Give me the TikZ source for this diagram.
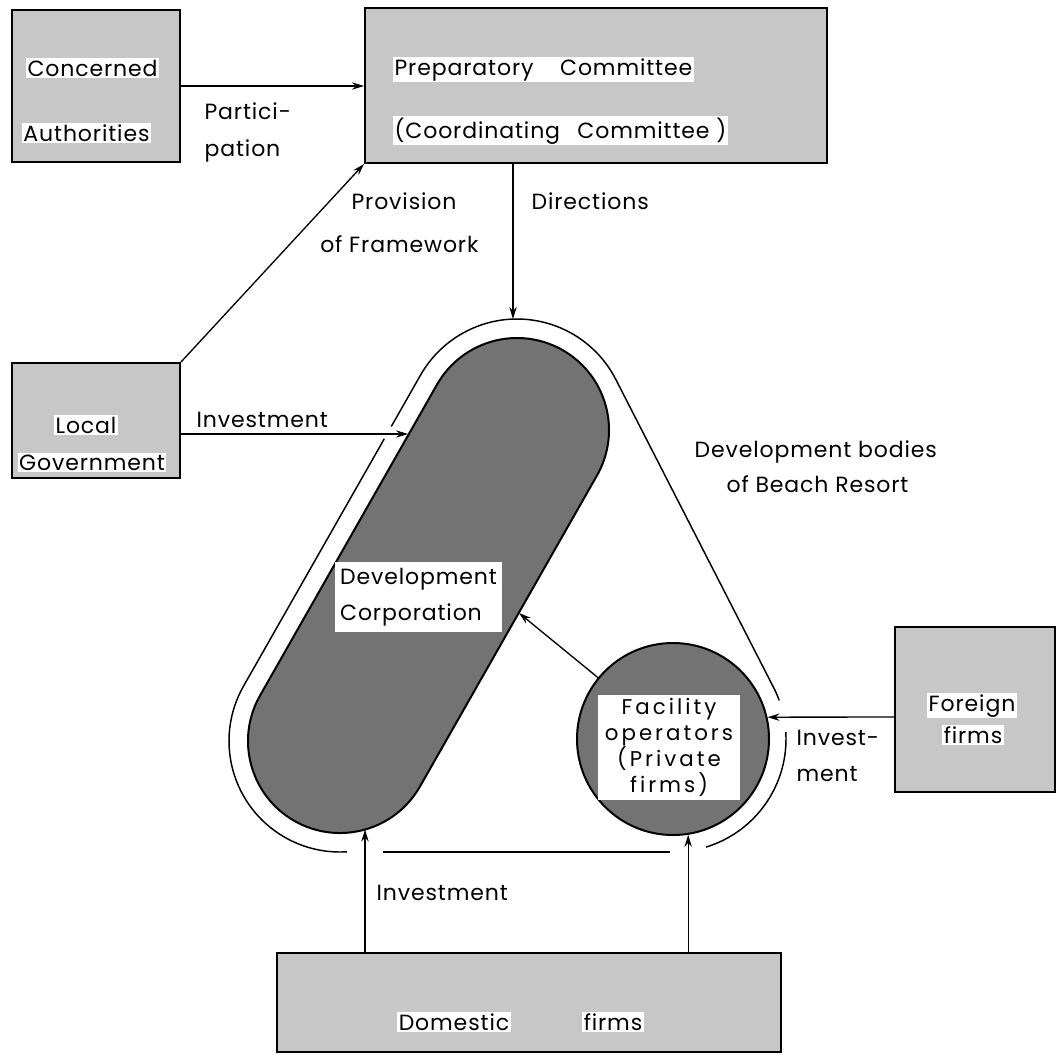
\documentclass[tikz,border=0pt]{standalone}
\usepackage{fontspec}
\setmainfont{Poppins}[LetterSpace=4]
\newfontfamily\widefont{Poppins}[LetterSpace=14]
\usetikzlibrary{arrows.meta,calc}
\begin{document}
\begin{tikzpicture}[x=0.75pt,y=-0.75pt,
  box/.style={draw, line width=1.5pt, fill=black!22, inner sep=0pt},
  txt/.style={inner sep=1pt, font=\fontsize{16.5}{19}\selectfont},
  intxt/.style={txt, fill=white},
  arr/.style={-{Stealth[length=9pt,width=5.5pt]}, line width=1pt},
  cont/.style={line width=1.1pt},
  dark/.style={draw, line width=1.5pt, fill=black!55}]
\useasboundingbox (0,0) rectangle (1062,1057);

% boxes
\node[box, minimum width=126pt, minimum height=114pt] (CA) at (96,86) {};
\node[box, minimum width=346.5pt, minimum height=116.25pt] (PC) at (596,85.5) {};
\node[box, minimum width=126pt, minimum height=86.25pt] (LG) at (96,420.5) {};
\node[box, minimum width=120pt, minimum height=123.75pt] (FF) at (975,709.5) {};
\node[box, minimum width=378pt, minimum height=74.25pt] (DF) at (529,1002.5) {};

% box texts
\node[intxt, anchor=base] (tCA1) at (92.5,76) {Concerned};
\node[intxt, anchor=base] (tCA2) at (86.5,141) {Authorities};
\node[intxt, anchor=base west] (tPC1) at (393,75) {Preparatory\hspace{20pt}Committee};
\node[intxt, anchor=base west] (tPC2) at (393,138) {(Coordinating\hspace{13pt}Committee )};
\node[intxt, anchor=base] (tLG1) at (86,433) {Local};
\node[intxt, anchor=base] (tLG2) at (92,470) {Government};
\node[intxt, anchor=base] (tFF1) at (972,711) {Foreign};
\node[intxt, anchor=base] (tFF2) at (973,743) {firms};
\node[intxt, anchor=base] (tDF1) at (454,1030) {Domestic};
\node[intxt, anchor=base] (tDF2) at (613,1030) {firms};

% pill (Development Corporation)
\coordinate (C1) at (517,430);
\coordinate (C2) at (340,741);
\draw[dark] ($(C1)+(209.65:92)$) -- ($(C2)+(209.65:92)$) arc (209.65:29.65:92)
  -- ($(C1)+(29.65:92)$) arc (29.65:-150.35:92) -- cycle;
\node[fill=white, inner sep=0pt, minimum width=125pt, minimum height=52pt,
  align=left, font=\fontsize{16.5}{27}\selectfont] (DC) at (418.5,597) {Development\\Corporation};

% facility operators circle
\node[dark, circle, minimum size=144pt, inner sep=0pt] (FO) at (673,739) {};
\node[fill=white, inner sep=0pt, minimum width=106.5pt, minimum height=78.75pt,
  align=center, font=\widefont\fontsize{16}{19.5}\selectfont] (FOt) at (669,747.5)
  {Facility\\operators\\(Private\\firms)};

% outer contour (Development bodies of Beach Resort)
\coordinate (T1) at ($(C1)+(-27.12:111)$);
\coordinate (LA) at ($(C1)+(209.65:111)$);
\coordinate (LB) at ($(C2)+(209.65:111)$);
\draw[cont] ($(FO.center)+(-20:113)$) arc (-20:-27.12:113) -- (T1)
  arc (-27.12:-150.35:111) -- ($(LA)!0.165!(LB)$);
\draw[cont] ($(LA)!0.205!(LB)$) -- (LB) arc (209.65:86.4:111);
\coordinate (BL) at (383,852);
\coordinate (BR) at (670,852);
\draw[cont] (BL) -- (BR);
\draw[cont] ($(FO.center)+(73:113)$) arc (73:-3.5:113);

% connector end points
\coordinate (dirEnd) at (513,319);
\coordinate (pillL) at (408,434);
\coordinate (pillR) at (519,613);
\coordinate (pillB) at (365,829.5);
\coordinate (ffA) at ($(FF.west)+(0,7.5)$);

% connectors
\draw[arr] (CA.east) -- (CA.east -| PC.west);
\draw[arr] (LG.north east) -- (PC.south west);
\draw[arr] (PC.south -| dirEnd) -- (dirEnd);
\draw[arr] (LG.east |- pillL) -- (pillL);
\draw[arr] (FO) -- (pillR);
\draw[arr] (ffA) -- (FO.13.25);
\draw[arr] (DF.north -| pillB) -- (pillB);
\draw[arr] (DF.north -| FO.-81) -- (FO.-81);

% labels
\node[txt, anchor=base west] (lPa1) at (203,119) {Partici-};
\node[txt, anchor=base west] (lPa2) at (203,156) {pation};
\node[txt, anchor=base west] (lPr1) at (350,209) {Provision};
\node[txt, anchor=base east] (lPr2) at (480,252) {of Framework};
\node[txt, anchor=base west] (lDi) at (530,209) {Directions};
\node[txt, anchor=base west] (lIn1) at (195,427) {Investment};
\node[txt, anchor=base west] (lDb1) at (693,457) {Development bodies};
\node[txt, anchor=base west] (lDb2) at (725,492) {of Beach Resort};
\node[txt, anchor=base west] (lIn2a) at (795,745) {Invest-};
\node[txt, anchor=base west] (lIn2b) at (795,781) {ment};
\node[txt, anchor=base west] (lIn3) at (375,900) {Investment};
\end{tikzpicture}
\end{document}
